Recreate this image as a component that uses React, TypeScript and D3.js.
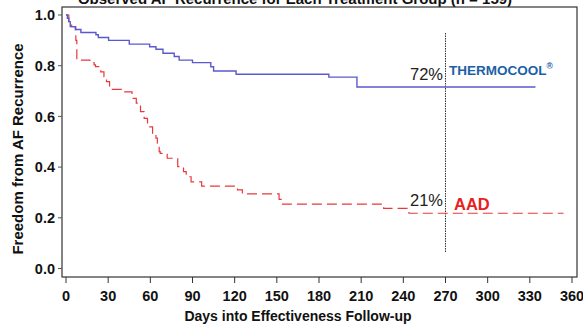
import React from "react";
import * as d3 from "d3";

// Kaplan-Meier step curves (day, freedom from AF)
const thermoDays = [0, 1, 2, 3, 6.6, 10.6, 21.3, 23, 30.3, 45, 59.5, 64, 69, 77, 80.5, 90, 103, 105, 121, 187, 207, 334];
const thermoSurv = [1.0, 0.987, 0.974, 0.954, 0.943, 0.931, 0.922, 0.911, 0.9, 0.885, 0.875, 0.865, 0.849, 0.836, 0.822, 0.812, 0.796, 0.779, 0.766, 0.755, 0.716, 0.716];

const aadDays = [0, 2, 4, 7, 7.7, 17, 20, 21, 24.7, 27, 28.8, 31, 39.5, 47, 50, 53, 55.6, 58, 61.6, 64, 65, 66.3, 67, 72, 79.5, 83.6, 85.5, 89, 96.5, 122, 125.5, 151.6, 154, 226, 244, 354];
const aadSurv = [1.0, 0.974, 0.954, 0.9, 0.822, 0.812, 0.803, 0.796, 0.776, 0.757, 0.737, 0.707, 0.697, 0.671, 0.652, 0.619, 0.592, 0.559, 0.533, 0.514, 0.494, 0.461, 0.454, 0.435, 0.402, 0.382, 0.362, 0.342, 0.325, 0.31, 0.294, 0.273, 0.254, 0.237, 0.218, 0.218];

const xTicks = [0, 30, 60, 90, 120, 150, 180, 210, 240, 270, 300, 330, 360];
const yTicks = [0, 0.2, 0.4, 0.6, 0.8, 1.0];
const markDay = 270;
const groupLabels = ["THERMOCOOL", "AAD"];
const groupPct = ["72%", "21%"];

const W = 583;
const H = 326;
const frame = { left: 62, top: 7, right: 577, bottom: 277 };

export default function App() {
  const x = d3.scaleLinear().domain([0, 360]).range([66, 572]);
  const y = d3.scaleLinear().domain([0, 1]).range([268.5, 15]);

  const line = d3
    .line<[number, number]>()
    .x((d) => x(d[0]))
    .y((d) => y(d[1]))
    .curve(d3.curveStepAfter);

  const thermo = thermoDays.map((d, i) => [d, thermoSurv[i]] as [number, number]);
  const aad = aadDays.map((d, i) => [d, aadSurv[i]] as [number, number]);

  const font = "Arial, 'Liberation Sans', sans-serif";

  return (
    <svg
      width={W}
      height={H}
      style={{ position: "absolute", left: 0, top: 0 }}
      fontFamily={font}
    >
      <rect width={W} height={H} fill="#fff" />
      <text x={295} y={4} textAnchor="middle" fontSize={15} fontWeight="bold" fill="#111">
        Observed AF Recurrence for Each Treatment Group (n = 159)
      </text>

      <rect
        x={frame.left}
        y={frame.top}
        width={frame.right - frame.left}
        height={frame.bottom - frame.top}
        fill="none"
        stroke="#333"
        strokeWidth={1.2}
      />

      {/* y axis */}
      {yTicks.map((t) => (
        <g key={t}>
          <line x1={frame.left - 4} x2={frame.left} y1={y(t)} y2={y(t)} stroke="#555" />
          <text x={55} y={y(t)} dy="0.36em" textAnchor="end" fontSize={14.5} fontWeight="bold" fill="#111">
            {t.toFixed(1)}
          </text>
        </g>
      ))}
      <text
        transform={`translate(23,149) rotate(-90)`}
        textAnchor="middle"
        fontSize={15}
        fontWeight="bold"
        fill="#111"
      >
        Freedom from AF Recurrence
      </text>

      {/* x axis */}
      {xTicks.map((t) => (
        <g key={t}>
          <line x1={x(t)} x2={x(t)} y1={frame.bottom} y2={frame.bottom + 6} stroke="#333" />
          <text x={x(t)} y={301} textAnchor="middle" fontSize={14.5} fontWeight="bold" fill="#111">
            {t}
          </text>
        </g>
      ))}
      <text x={298} y={321} textAnchor="middle" fontSize={14} fontWeight="bold" fill="#111">
        Days into Effectiveness Follow-up
      </text>

      {/* 270-day marker */}
      <line
        x1={x(markDay)}
        x2={x(markDay)}
        y1={33}
        y2={253}
        stroke="#333"
        strokeWidth={1}
        strokeDasharray="1.5,1"
      />

      {/* curves */}
      <path d={line(aad) ?? ""} fill="none" stroke="#e8383d" strokeWidth={1.2} strokeDasharray="10,5" />
      <path d={line(thermo) ?? ""} fill="none" stroke="#5a5ad0" strokeWidth={1.4} />

      {/* labels */}
      <text x={443} y={80} textAnchor="end" fontSize={16.5} fill="#222">
        {groupPct[0]}
      </text>
      <text x={449} y={75} fontSize={13.5} fontWeight="bold" fill="#1b5fa8">
        {groupLabels[0]}
        <tspan fontSize={8.5} dy={-6}>®</tspan>
      </text>
      <text x={443} y={206} textAnchor="end" fontSize={16.5} fill="#222">
        {groupPct[1]}
      </text>
      <text x={454} y={210} fontSize={16.5} fontWeight="bold" fill="#e82020">
        {groupLabels[1]}
      </text>
    </svg>
  );
}
